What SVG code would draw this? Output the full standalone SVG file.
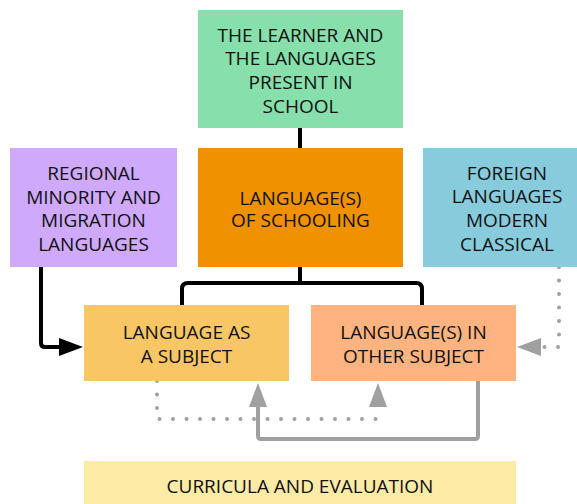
<svg xmlns="http://www.w3.org/2000/svg" width="577" height="504" viewBox="0 0 577 504">
<style>
text{font-family:"Open Sans","Liberation Sans",sans-serif;font-size:19px;fill:#111;text-anchor:middle}
.k{fill:none;stroke:#000;stroke-width:4;stroke-linejoin:round}
.g{fill:none;stroke:#a0a0a0;stroke-width:4;stroke-linejoin:round}
.d{fill:none;stroke:#a0a0a0;stroke-width:4;stroke-linecap:round;stroke-dasharray:0 13.5}
.ah{fill:#a0a0a0}
</style>
<rect width="577" height="504" fill="#fff"/>
<g id="connectors">
<path class="k" d="M300,128V148"/>
<path class="k" d="M300,267V283M182,305V289Q182,283 188,283H416Q422,283 422,289V305"/>
<path class="k" d="M41,267V343Q41,347 45,347H62"/>
<polygon points="59,338 83,347 59,356" fill="#000"/>
<path class="d" d="M559,267V347H538"/>
<polygon class="ah" points="541,338 517,347 541,356"/>
<path class="d" d="M157,381V419H378V410"/>
<polygon class="ah" points="369,407 378,383 387,407"/>
<path class="g" d="M478,381V436Q478,439 475,439H261Q258,439 258,436V405"/>
<polygon class="ah" points="249,407 258,383 267,407"/>
</g>
<g id="learner">
<rect x="198" y="10" width="205" height="118" fill="#87dfab"/>
<text x="300.5" y="42">THE LEARNER AND</text>
<text x="300.5" y="65">THE LANGUAGES</text>
<text x="300.5" y="89">PRESENT IN</text>
<text x="300.5" y="113">SCHOOL</text>
</g>
<g id="regional">
<rect x="10" y="148" width="167" height="119" fill="#cfa9fc"/>
<text x="93.5" y="180">REGIONAL</text>
<text x="93.5" y="204">MINORITY AND</text>
<text x="93.5" y="227">MIGRATION</text>
<text x="93.5" y="251">LANGUAGES</text>
</g>
<g id="schooling">
<rect x="198" y="148" width="205" height="119" fill="#f09100"/>
<text x="300.5" y="205">LANGUAGE(S)</text>
<text x="300.5" y="227">OF SCHOOLING</text>
</g>
<g id="foreign">
<rect x="423" y="148" width="154" height="119" fill="#87cbdd"/>
<text x="507" y="180">FOREIGN</text>
<text x="507" y="203">LANGUAGES</text>
<text x="507" y="227">MODERN</text>
<text x="507" y="251">CLASSICAL</text>
</g>
<g id="subject">
<rect x="84" y="305" width="205" height="76" fill="#f8c664"/>
<text x="186.5" y="339">LANGUAGE AS</text>
<text x="186.5" y="363">A SUBJECT</text>
</g>
<g id="other">
<rect x="311" y="305" width="205" height="76" fill="#ffb380"/>
<text x="413.5" y="339">LANGUAGE(S) IN</text>
<text x="413.5" y="363">OTHER SUBJECT</text>
</g>
<g id="curricula">
<rect x="84" y="461" width="432" height="43" fill="#fdeba6"/>
<text x="300" y="493">CURRICULA AND EVALUATION</text>
</g>
</svg>
